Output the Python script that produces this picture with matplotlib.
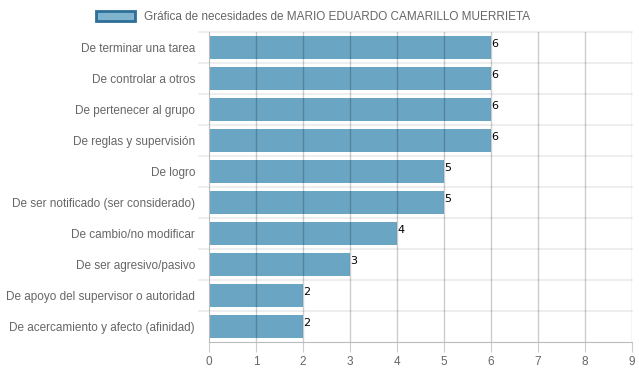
import matplotlib.pyplot as plt
from matplotlib.patches import Patch

plt.rcParams['font.family'] = ['Liberation Sans', 'DejaVu Sans']

categories = ["De terminar una tarea", "De controlar a otros", "De pertenecer al grupo",
              "De reglas y supervisión", "De logro", "De ser notificado (ser considerado)",
              "De cambio/no modificar", "De ser agresivo/pasivo",
              "De apoyo del supervisor o autoridad", "De acercamiento y afecto (afinidad)"]
values = [6, 6, 6, 6, 5, 5, 4, 3, 2, 2]
legend_label = "Gráfica de necesidades de MARIO EDUARDO CAMARILLO MUERRIETA"

bar_color = "#6aa6c4"
text_gray = "#666666"

fig = plt.figure(figsize=(6.39, 3.72), dpi=100)
ax = fig.add_axes([209/639, 1-342/372, 423/639, 310/372])

ypos = list(range(len(categories)))
ax.barh(ypos, values, height=0.72, color=bar_color, zorder=1)

# horizontal (category) grid lines between rows
for b in range(len(categories)):
    ax.plot([-0.21, 9], [b - 0.5, b - 0.5], color="#ebebeb", lw=1.2, zorder=0, clip_on=False)

# vertical value grid lines drawn over the bars
for v in range(1, 10):
    ax.axvline(v, color=(0, 0, 0, 0.2), lw=1, zorder=2)

for y, v in zip(ypos, values):
    ax.text(v + 0.01, y - 0.12, str(v), fontsize=8, family="DejaVu Sans",
            ha="left", va="center", color="black", zorder=3)

ax.set_xlim(0, 9)
ax.set_ylim(len(categories) - 0.5, -0.5)
ax.set_xticks(range(10))
ax.set_yticks(ypos)
ax.set_yticklabels(categories)
ax.tick_params(axis="y", length=0, pad=10, labelsize=8.5, labelcolor=text_gray)
ax.tick_params(axis="x", length=7, color=(0, 0, 0, 0.2), pad=3, labelsize=8.5, labelcolor=text_gray)
for s in ["top", "right"]:
    ax.spines[s].set_visible(False)
ax.spines["bottom"].set_color("#bbbbbb")
ax.spines["left"].set_color("#bbbbbb")

handle = Patch(facecolor="#7fb3ce", edgecolor="#2e6f98", linewidth=2)
fig.legend([handle], [legend_label], loc="upper center", bbox_to_anchor=(0.49, 1.0),
           frameon=False, fontsize=8.5, labelcolor=text_gray,
           handlelength=3.3, handleheight=1.0, handletextpad=0.7)

fig.savefig("out.png", dpi=100)
